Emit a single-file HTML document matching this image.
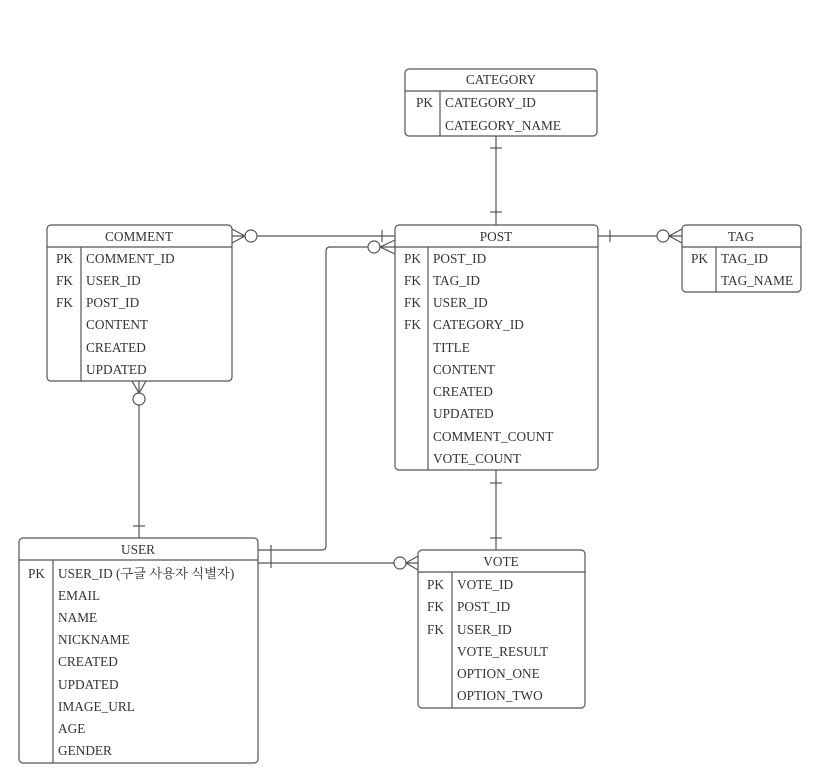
<!DOCTYPE html>
<html><head><meta charset="utf-8"><style>
html,body{margin:0;padding:0;background:#fff}
svg text{font-family:"Liberation Serif","Noto Serif CJK SC","Noto Sans CJK KR",serif;font-size:13.3px;fill:#333}
</style></head><body>
<svg width="834" height="773" viewBox="0 0 834 773" xmlns="http://www.w3.org/2000/svg">
<g fill="none" stroke="#555" stroke-width="1.2">
<rect x="405" y="69" width="192" height="67" rx="4"/>
<line x1="405" y1="91" x2="597" y2="91"/><line x1="440" y1="91" x2="440" y2="136"/>
<rect x="395" y="225" width="203" height="245" rx="4"/>
<line x1="395" y1="247" x2="598" y2="247"/><line x1="428" y1="247" x2="428" y2="470"/>
<rect x="47" y="225" width="185" height="156" rx="4"/>
<line x1="47" y1="247" x2="232" y2="247"/><line x1="81" y1="247" x2="81" y2="381"/>
<rect x="682" y="225" width="119" height="67" rx="4"/>
<line x1="682" y1="247" x2="801" y2="247"/><line x1="716" y1="247" x2="716" y2="292"/>
<rect x="19" y="538" width="239" height="225" rx="4"/>
<line x1="19" y1="560" x2="258" y2="560"/><line x1="53" y1="560" x2="53" y2="763"/>
<rect x="418" y="550" width="167" height="158" rx="4"/>
<line x1="418" y1="572" x2="585" y2="572"/><line x1="452" y1="572" x2="452" y2="708"/>

<line x1="496" y1="136" x2="496" y2="225"/>
<line x1="490" y1="148" x2="502" y2="148"/><line x1="490" y1="212" x2="502" y2="212"/>
<line x1="496" y1="470" x2="496" y2="550"/>
<line x1="490" y1="483" x2="502" y2="483"/><line x1="490" y1="538" x2="502" y2="538"/>
<line x1="257" y1="236" x2="395" y2="236"/>
<circle cx="251" cy="236" r="6" fill="#fff"/>
<path d="M232 229 L245 236 L232 243 M232 236 L245 236"/>
<line x1="382" y1="230" x2="382" y2="242"/>
<path d="M258 550 L322 550 Q326 550 326 546 L326 251 Q326 247 330 247 L368 247"/>
<circle cx="374" cy="247" r="6" fill="#fff"/>
<path d="M395 240 L380 247 L395 254 M380 247 L395 247"/>
<line x1="258" y1="563" x2="394" y2="563"/>
<circle cx="400" cy="563" r="6" fill="#fff"/>
<path d="M418 556 L406 563 L418 570 M406 563 L418 563"/>
<line x1="271" y1="545" x2="271" y2="568"/>
<line x1="139" y1="405" x2="139" y2="538"/>
<circle cx="139" cy="399" r="6" fill="#fff"/>
<path d="M132 381 L139 393 L146 381 M139 381 L139 393"/>
<line x1="133" y1="526" x2="145" y2="526"/>
<line x1="598" y1="236" x2="657" y2="236"/>
<line x1="610" y1="230" x2="610" y2="242"/>
<circle cx="663" cy="236" r="6" fill="#fff"/>
<path d="M682 229 L669 236 L682 243 M669 236 L682 236"/>
</g>
<g>
<text x="501" y="84" text-anchor="middle">CATEGORY</text>
<text x="416" y="107">PK</text><text x="445" y="107">CATEGORY_ID</text>
<text x="445" y="130">CATEGORY_NAME</text>

<text x="496" y="241" text-anchor="middle">POST</text>
<text x="404" y="263">PK</text><text x="433" y="263">POST_ID</text>
<text x="404" y="285">FK</text><text x="433" y="285">TAG_ID</text>
<text x="404" y="307">FK</text><text x="433" y="307">USER_ID</text>
<text x="404" y="329">FK</text><text x="433" y="329">CATEGORY_ID</text>
<text x="433" y="352">TITLE</text>
<text x="433" y="374">CONTENT</text>
<text x="433" y="396">CREATED</text>
<text x="433" y="418">UPDATED</text>
<text x="433" y="441">COMMENT_COUNT</text>
<text x="433" y="463">VOTE_COUNT</text>

<text x="139" y="241" text-anchor="middle">COMMENT</text>
<text x="56" y="263">PK</text><text x="86" y="263">COMMENT_ID</text>
<text x="56" y="285">FK</text><text x="86" y="285">USER_ID</text>
<text x="56" y="307">FK</text><text x="86" y="307">POST_ID</text>
<text x="86" y="329">CONTENT</text>
<text x="86" y="352">CREATED</text>
<text x="86" y="374">UPDATED</text>

<text x="741" y="241" text-anchor="middle">TAG</text>
<text x="691" y="263">PK</text><text x="721" y="263">TAG_ID</text>
<text x="721" y="285">TAG_NAME</text>

<text x="138" y="554" text-anchor="middle">USER</text>
<text x="28" y="578">PK</text><text x="58" y="578">USER_ID (구글 사용자 식별자)</text>
<text x="58" y="600">EMAIL</text>
<text x="58" y="622">NAME</text>
<text x="58" y="644">NICKNAME</text>
<text x="58" y="666">CREATED</text>
<text x="58" y="689">UPDATED</text>
<text x="58" y="711">IMAGE_URL</text>
<text x="58" y="733">AGE</text>
<text x="58" y="755">GENDER</text>

<text x="501" y="566" text-anchor="middle">VOTE</text>
<text x="427" y="589">PK</text><text x="457" y="589">VOTE_ID</text>
<text x="427" y="611">FK</text><text x="457" y="611">POST_ID</text>
<text x="427" y="634">FK</text><text x="457" y="634">USER_ID</text>
<text x="457" y="656">VOTE_RESULT</text>
<text x="457" y="678">OPTION_ONE</text>
<text x="457" y="700">OPTION_TWO</text>
</g>
</svg>
</body></html>
